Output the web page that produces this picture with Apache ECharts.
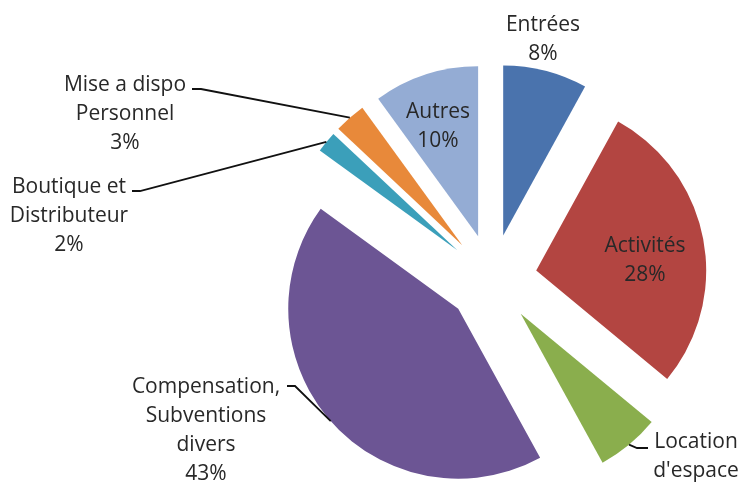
<!DOCTYPE html>
<html>
<head>
<meta charset="utf-8">
<script src="https://cdn.jsdelivr.net/npm/echarts@6/dist/echarts.min.js"></script>
<style>
  html, body { margin: 0; padding: 0; background: #ffffff; }
  #chart { width: 740px; height: 483px; }
</style>
</head>
<body>
<div id="chart"></div>
<script>
// Revenue breakdown (percent of total), clockwise from 12 o'clock
const categories = [
  'Entrées',
  'Activités',
  "Location\nd'espace",
  'Compensation,\nSubventions\ndivers',
  'Boutique et\nDistributeur',
  'Mise a dispo\nPersonnel',
  'Autres'
];
const shares = [8, 28, 6, 43, 2, 3, 10];
const sliceColors = ['#4a73ad', '#b34541', '#8aae4d', '#6c5594', '#3b9fba', '#e8893a', '#94acd4'];

// Pie geometry: every slice is pulled out from the centre by the same distance
const PIE_CENTER = [492, 279];
const PIE_RADIUS = 170;
const EXPLODE = 45;

// Where each label sits and how its leader line bends (null = no leader line)
const labelPlacement = [
  { x: 543, y: 40,  bend: null },
  { x: 645, y: 261, bend: null },
  { x: 696, y: 471, bend: [[637, 448], [648, 448]] },
  { x: 206, y: 431, bend: [[295, 386], [287, 386]] },
  { x: 69,  y: 216, bend: [[140, 191], [132, 191]] },
  { x: 125, y: 114, bend: [[201, 89], [192, 89]] },
  { x: 438, y: 127, bend: null }
];

const chart = echarts.init(document.getElementById('chart'), null, { renderer: 'canvas' });

// Visible slices, all exploded
const sliceData = categories.map((name, i) => ({
  name: name,
  value: shares[i],
  selected: true,
  itemStyle: { color: sliceColors[i] }
}));

// Same values again for the text layer; its outer edge coincides with the
// exploded slices' outer edge along each mid-angle, so leader lines start there
const labelData = categories.map((name, i) => ({
  name: name,
  value: shares[i],
  labelLine: { show: labelPlacement[i].bend !== null }
}));

chart.setOption({
  animation: false,
  series: [
    {
      type: 'pie',
      center: PIE_CENTER,
      radius: [0, PIE_RADIUS],
      startAngle: 90,
      clockwise: true,
      selectedMode: 'multiple',
      selectedOffset: EXPLODE,
      silent: true,
      itemStyle: { borderWidth: 0 },
      label: { show: false },
      labelLine: { show: false },
      emphasis: { disabled: true },
      data: sliceData
    },
    {
      type: 'pie',
      center: PIE_CENTER,
      radius: [0, PIE_RADIUS + EXPLODE],
      startAngle: 90,
      clockwise: true,
      silent: true,
      z: 3,
      avoidLabelOverlap: false,
      itemStyle: { color: 'rgba(0,0,0,0)', borderWidth: 0 },
      emphasis: { disabled: true },
      label: {
        show: true,
        position: 'outside',
        formatter: '{b}\n{d}%',
        fontFamily: 'Open Sans',
        fontSize: 21,
        lineHeight: 29,
        color: '#282828'
      },
      labelLine: {
        show: true,
        lineStyle: { color: '#111111', width: 1.8 }
      },
      labelLayout: function (params) {
        const p = labelPlacement[params.dataIndex];
        const out = { x: p.x, y: p.y, align: 'center', verticalAlign: 'middle' };
        if (p.bend && params.labelLinePoints) {
          out.labelLinePoints = [params.labelLinePoints[0], p.bend[0], p.bend[1]];
        }
        return out;
      },
      data: labelData
    }
  ]
});
</script>
</body>
</html>
